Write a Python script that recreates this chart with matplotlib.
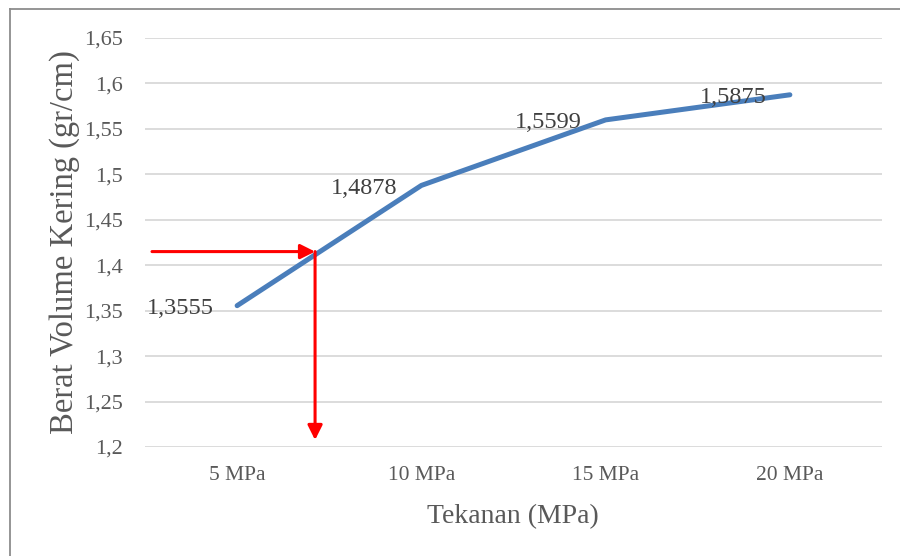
import matplotlib
matplotlib.use("Agg")
import matplotlib.pyplot as plt
from matplotlib.lines import Line2D

categories = ["5 MPa", "10 MPa", "15 MPa", "20 MPa"]
values = [1.3555, 1.4878, 1.5599, 1.5875]
value_labels = ["1,3555", "1,4878", "1,5599", "1,5875"]
y_ticks = [1.2, 1.25, 1.3, 1.35, 1.4, 1.45, 1.5, 1.55, 1.6, 1.65]
y_tick_labels = ["1,2", "1,25", "1,3", "1,35", "1,4", "1,45", "1,5", "1,55", "1,6", "1,65"]
read_value = 1.415
read_x = 0.423

plt.rcParams['font.family'] = ['Liberation Serif', 'DejaVu Serif']

fig = plt.figure(figsize=(9, 5.56), dpi=100)
ax = fig.add_axes([145/900, 1-447/556, (882-145)/900, (447-38)/556])

x = list(range(len(categories)))
ax.plot(x, values, color='#4A7EBB', lw=3.6, solid_capstyle='round', solid_joinstyle='round', zorder=3)

for xi, v, lab in zip(x, values, value_labels):
    ax.annotate(lab, (xi, v), xytext=(-17, -2), textcoords='offset points',
                ha='right', va='center', fontsize=17.5, color='#404040', zorder=4)

ax.set_xlim(-0.5, 3.5)
ax.set_ylim(1.2, 1.65)
ax.set_yticks(y_ticks)
ax.set_yticklabels(y_tick_labels)
ax.set_xticks(x)
ax.set_xticklabels(categories)
ax.tick_params(axis='y', length=0, labelsize=16, labelcolor='#595959', pad=16)
ax.tick_params(axis='x', length=0, labelsize=15.5, labelcolor='#595959', pad=14)
ax.grid(axis='y', color='#D9D9D9', lw=1.3)
ax.set_axisbelow(True)
for s in ax.spines.values():
    s.set_visible(False)

fig.text(513/900, 1-517/556, "Tekanan (MPa)", fontsize=20, color='#595959', ha='center', va='center')
fig.text(65/900, 1-242/556, "Berat Volume Kering (gr/cm)", fontsize=23.5, color='#595959',
         ha='center', va='center', rotation=90)

# red reading arrows
ax.annotate('', xy=(read_x, read_value), xytext=(-0.462, read_value),
            arrowprops=dict(arrowstyle='-|>', color='red', lw=2.2, mutation_scale=22, shrinkA=0, shrinkB=0),
            zorder=5, annotation_clip=False)
ax.annotate('', xy=(read_x, 1.2077), xytext=(read_x, read_value),
            arrowprops=dict(arrowstyle='-|>', color='red', lw=2.2, mutation_scale=22, shrinkA=0, shrinkB=0),
            zorder=5, annotation_clip=False)

# outer frame
fig.add_artist(Line2D([10/900, 10/900], [0, 1-9/556], transform=fig.transFigure, color='#8C8C8C', lw=1.3))
fig.add_artist(Line2D([10/900, 1], [1-9/556, 1-9/556], transform=fig.transFigure, color='#8C8C8C', lw=1.3))

fig.savefig("out.png", dpi=100)
